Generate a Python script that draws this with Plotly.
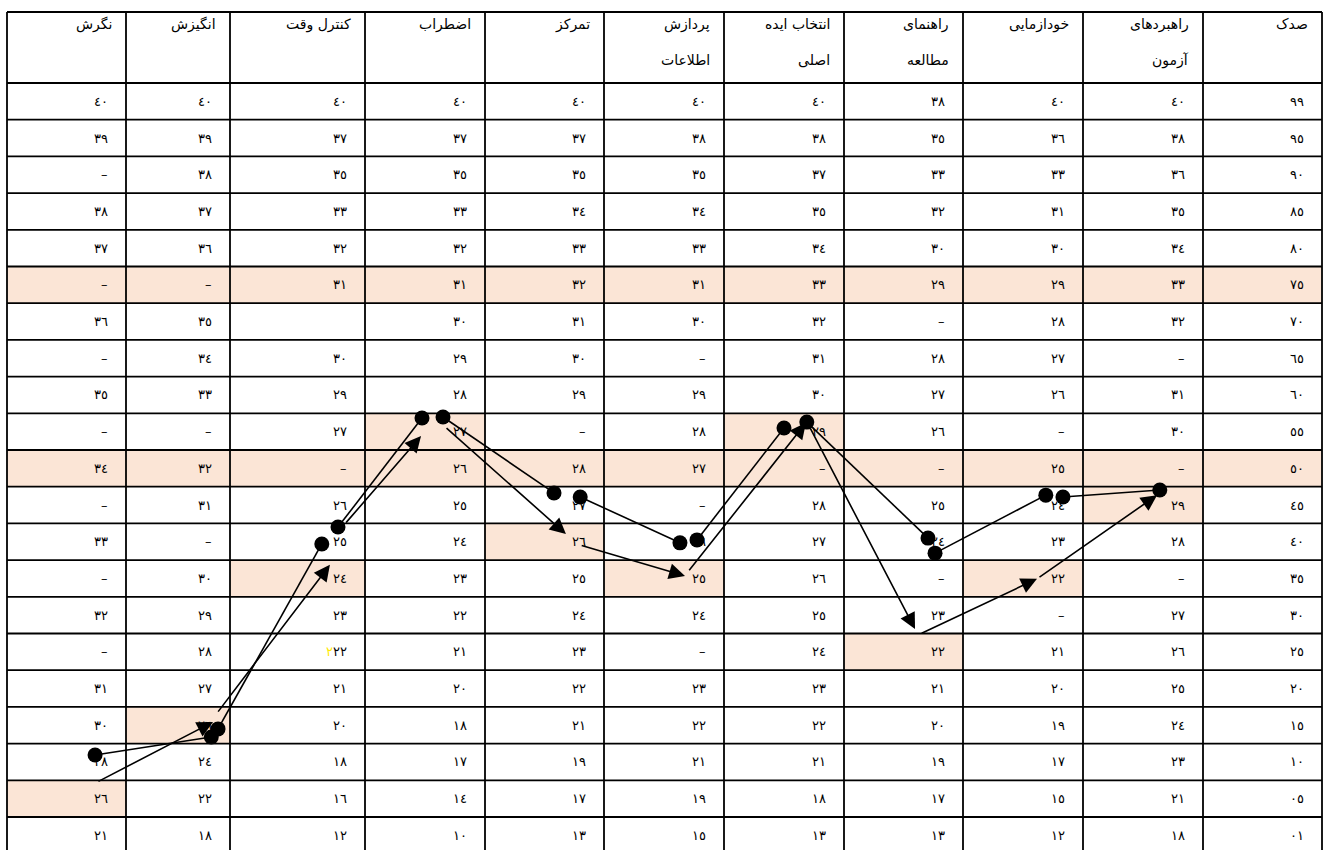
import plotly.graph_objects as go

# ---------------- data ----------------
percentile = ["99", "95", "90", "85", "80", "75", "70", "65", "60", "55", "50",
              "45", "40", "35", "30", "25", "20", "15", "10", "05", "01"]

# columns listed left -> right as they appear on the page
header_line1 = ["نگرش", "انگیزش", "کنترل وقت", "اضطراب", "تمرکز", "پردازش",
                "انتخاب ایده", "راهنمای", "خودازمایی", "راهبردهای", "صدک"]
header_line2 = ["", "", "", "", "", "اطلاعات", "اصلی", "مطالعه", "", "آزمون", ""]

col_negaresh = ["40", "39", "–", "38", "37", "–", "36", "–", "35", "–", "34",
                "–", "33", "–", "32", "–", "31", "30", "28", "26", "21"]
col_angizesh = ["40", "39", "38", "37", "36", "–", "35", "34", "33", "–", "32",
                "31", "–", "30", "29", "28", "27", "26", "24", "22", "18"]
col_control = ["40", "37", "35", "33", "32", "31", "", "30", "29", "27", "–",
               "26", "25", "24", "23", "22", "21", "20", "18", "16", "12"]
col_ezterab = ["40", "37", "35", "33", "32", "31", "30", "29", "28", "27", "26",
               "25", "24", "23", "22", "21", "20", "18", "17", "14", "10"]
col_tamarkoz = ["40", "37", "35", "34", "33", "32", "31", "30", "29", "–", "28",
                "27", "26", "25", "24", "23", "22", "21", "19", "17", "13"]
col_pardazesh = ["40", "38", "35", "34", "33", "31", "30", "–", "29", "28", "27",
                 "–", "26", "25", "24", "–", "23", "22", "21", "19", "15"]
col_entekhab = ["40", "38", "37", "35", "34", "33", "32", "31", "30", "29", "–",
                "28", "27", "26", "25", "24", "23", "22", "21", "18", "13"]
col_rahnama = ["38", "35", "33", "32", "30", "29", "–", "28", "27", "26", "–",
               "25", "24", "–", "23", "22", "21", "20", "19", "17", "13"]
col_khodazmaei = ["40", "36", "33", "31", "30", "29", "28", "27", "26", "–", "25",
                  "24", "23", "22", "–", "21", "20", "19", "17", "15", "12"]
col_rahbord = ["40", "38", "36", "35", "34", "33", "32", "–", "31", "30", "–",
               "29", "28", "–", "27", "26", "25", "24", "23", "21", "18"]

# rows highlighted across the whole table
band_percentiles = ["75", "50"]
# the single highlighted cell of each score column (left -> right)
marked_percentile = ["05", "15", "35", "55", "40", "35", "55", "25", "35", "45"]
# stray yellow digit typed in front of one value
stray_col, stray_pct, stray_digit = 2, "25", "2"

# hand-drawn profile of dots: (column, position across cell, position down rows)
dot_from = [(0, 0.74, 18.31), (1, 0.885, 17.60), (2, 0.80, 12.10), (3, 0.65, 9.10),
            (4, 0.80, 11.28), (5, 0.775, 12.45), (6, 0.69, 9.24), (7, 0.765, 12.81),
            (8, 0.833, 11.28)]
dot_to = [(1, 0.82, 17.82), (2, 0.68, 12.56), (3, 0.475, 9.13), (4, 0.58, 11.17),
          (5, 0.633, 12.53), (6, 0.50, 9.40), (7, 0.706, 12.40), (8, 0.69, 11.23),
          (9, 0.64, 11.09)]
# hand-drawn arrows that point at the highlighted cells
arrow_from = [(0, 0.756, 19.05), (1, 0.875, 17.17), (2, 0.85, 12.02), (3, 0.667, 9.37),
              (4, 0.80, 12.59), (5, 0.70, 13.32), (6, 0.70, 9.29), (7, 0.64, 15.01),
              (8, 0.625, 13.49)]
arrow_to = [(1, 0.837, 17.41), (2, 0.74, 13.13), (3, 0.467, 9.62), (4, 0.68, 12.29),
            (5, 0.675, 13.43), (6, 0.683, 9.26), (7, 0.597, 14.88), (8, 0.617, 13.51),
            (9, 0.617, 11.23)]

# ---------------- layout constants ----------------
W, H = 1324, 850
COL_EDGES = [7, 126, 230, 365, 485, 604, 724, 844, 963, 1083, 1203, 1322]
TOP, HEAD_BOTTOM, ROW_H = 12, 83, 36.7
HEAD_Y1, HEAD_Y2 = 24, 60
PAD = 16
SHADE = "#FBE5D6"
FONT = "DejaVu Sans"
LW = 1.8

AR = str.maketrans("0123456789", "٠١٢٣٤٥٦٧٨٩")
columns = [col_negaresh, col_angizesh, col_control, col_ezterab, col_tamarkoz,
           col_pardazesh, col_entekhab, col_rahnama, col_khodazmaei, col_rahbord,
           percentile]
n_rows = len(percentile)
n_cols = len(columns)


def px(c, f):
    return COL_EDGES[c] + f * (COL_EDGES[c + 1] - COL_EDGES[c])


def py(r):
    return HEAD_BOTTOM + r * ROW_H


shapes = []
# shading
for p in band_percentiles:
    r = percentile.index(p)
    shapes.append(dict(type="rect", xref="x", yref="y", x0=COL_EDGES[0], x1=COL_EDGES[-1],
                       y0=py(r), y1=py(r + 1), fillcolor=SHADE, line=dict(width=0),
                       layer="below"))
for c, p in enumerate(marked_percentile):
    r = percentile.index(p)
    shapes.append(dict(type="rect", xref="x", yref="y", x0=COL_EDGES[c], x1=COL_EDGES[c + 1],
                       y0=py(r), y1=py(r + 1), fillcolor=SHADE, line=dict(width=0),
                       layer="below"))
# grid lines
bottom = py(n_rows)
for yv in [TOP, HEAD_BOTTOM] + [py(r) for r in range(1, n_rows + 1)]:
    shapes.append(dict(type="line", xref="x", yref="y", x0=COL_EDGES[0], x1=COL_EDGES[-1],
                       y0=yv, y1=yv, line=dict(color="black", width=LW), layer="below"))
for xv in COL_EDGES:
    shapes.append(dict(type="line", xref="x", yref="y", x0=xv, x1=xv, y0=TOP, y1=bottom,
                       line=dict(color="black", width=LW), layer="below"))

annotations = []
# headers
for c in range(n_cols):
    xr = COL_EDGES[c + 1] - 12
    annotations.append(dict(x=xr, y=HEAD_Y1, xref="x", yref="y", text=header_line1[c],
                            showarrow=False, xanchor="right", yanchor="middle",
                            font=dict(family=FONT, size=14, color="black")))
    if header_line2[c]:
        annotations.append(dict(x=xr, y=HEAD_Y2, xref="x", yref="y", text=header_line2[c],
                                showarrow=False, xanchor="right", yanchor="middle",
                                font=dict(family=FONT, size=14, color="black")))
# cells
for c, col in enumerate(columns):
    for r, v in enumerate(col):
        if not v:
            continue
        txt = v.translate(AR)
        if c == stray_col and percentile[r] == stray_pct:
            txt = '<span style="color:#FFEA00">' + stray_digit.translate(AR) + "</span>" + txt
        annotations.append(dict(x=COL_EDGES[c + 1] - PAD, y=py(r + 0.5), xref="x", yref="y",
                                text=txt, showarrow=False, xanchor="right", yanchor="middle",
                                font=dict(family=FONT, size=13, color="black")))
# arrows
for (c0, f0, r0), (c1, f1, r1) in zip(arrow_from, arrow_to):
    annotations.append(dict(x=px(c1, f1), y=py(r1), ax=px(c0, f0), ay=py(r0),
                            xref="x", yref="y", axref="x", ayref="y", text="",
                            showarrow=True, arrowhead=2, arrowsize=2.0, arrowwidth=1.6,
                            arrowcolor="black", standoff=0, startstandoff=0))

# dots with connecting lines
xs, ys = [], []
for (c0, f0, r0), (c1, f1, r1) in zip(dot_from, dot_to):
    xs += [px(c0, f0), px(c1, f1), None]
    ys += [py(r0), py(r1), None]

fig = go.Figure()
fig.add_trace(go.Scatter(x=xs, y=ys, mode="lines+markers",
                         line=dict(color="black", width=1.6),
                         marker=dict(color="black", size=15),
                         hoverinfo="skip", showlegend=False))

fig.update_layout(
    width=W, height=H,
    margin=dict(l=0, r=0, t=0, b=0),
    paper_bgcolor="white", plot_bgcolor="white",
    xaxis=dict(range=[0, W], visible=False, fixedrange=True),
    yaxis=dict(range=[H, 0], visible=False, fixedrange=True),
    shapes=shapes, annotations=annotations, showlegend=False,
)

fig.write_html("out.html", config={"displayModeBar": False},
               post_script="document.body.style.margin='0';document.body.style.overflow='hidden';")
